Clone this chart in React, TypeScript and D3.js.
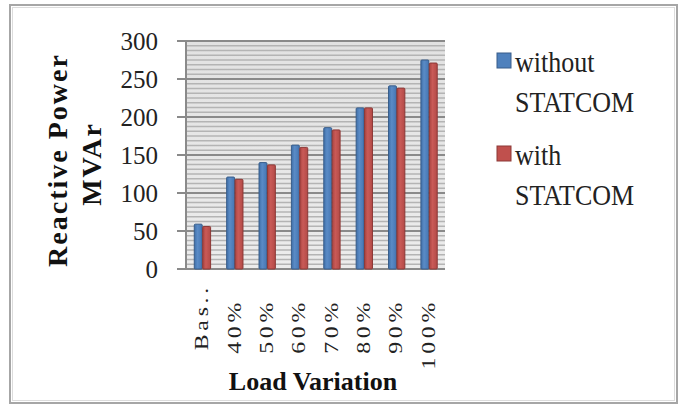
import React from "react";
import * as d3 from "d3";

const categories = ["Bas..", "40%", "50%", "60%", "70%", "80%", "90%", "100%"];
const withoutStatcom = [59, 121, 140, 163, 186, 212, 241, 275];
const withStatcom = [56, 118, 137, 160, 183, 212, 238, 271];
const seriesNames = ["without STATCOM", "with STATCOM"];
const yTicks = [0, 50, 100, 150, 200, 250, 300];

const W = 681;
const H = 405;
const plot = { left: 186, right: 445, top: 41, bottom: 269 };

const blue = "#4F81BD";
const blueDark = "#385D8A";
const red = "#C0504D";
const redDark = "#8C3836";
const serif = "Liberation Serif, DejaVu Serif, Times New Roman, serif";

export default function App() {
  const x = d3
    .scaleBand<string>()
    .domain(categories)
    .range([plot.left, plot.right])
    .paddingInner(0.48)
    .paddingOuter(0.24);
  const x1 = d3.scaleBand<string>().domain(seriesNames).range([0, x.bandwidth()]);
  const y = d3.scaleLinear().domain([0, 300]).range([plot.bottom, plot.top]);
  const minorTicks = d3.range(0, 300.001, 6.25).filter((v) => v % 50 !== 0);
  const series = [
    { name: seriesNames[0], values: withoutStatcom, fill: blue, stroke: blueDark },
    { name: seriesNames[1], values: withStatcom, fill: red, stroke: redDark },
  ];
  const ts = { fontFamily: serif };

  return (
    <svg
      width={W}
      height={H}
      style={{ position: "absolute", left: 0, top: 0, background: "#fff" }}
    >
      <defs>
        <linearGradient id="bg" x1="0" y1="0" x2="0" y2="1">
          <stop offset="0" stopColor="#e2e2e2" />
          <stop offset="1" stopColor="#ececec" />
        </linearGradient>
        <linearGradient id="gBlue" x1="0" y1="0" x2="1" y2="0">
          <stop offset="0" stopColor="#3f6fa8" />
          <stop offset="0.4" stopColor="#5a8bc6" />
          <stop offset="1" stopColor="#4576b3" />
        </linearGradient>
        <linearGradient id="gRed" x1="0" y1="0" x2="1" y2="0">
          <stop offset="0" stopColor="#a94441" />
          <stop offset="0.4" stopColor="#c95a57" />
          <stop offset="1" stopColor="#b34a47" />
        </linearGradient>
      </defs>
      <rect x={10} y={5} width={667} height={398} fill="none" stroke="#a6a6a6" strokeWidth={2} />
      <rect x={12.5} y={7.5} width={662} height={393} fill="none" stroke="#dcdcdc" strokeWidth={1} />

      <rect
        x={plot.left}
        y={plot.top}
        width={plot.right - plot.left}
        height={plot.bottom - plot.top}
        fill="url(#bg)"
      />
      {minorTicks.map((t) => (
        <line
          key={"m" + t}
          x1={plot.left}
          x2={plot.right}
          y1={y(t)}
          y2={y(t)}
          stroke="#b4b4b4"
          strokeWidth={1.3}
        />
      ))}
      {yTicks.map((t) => (
        <g key={"M" + t}>
          <line x1={177} x2={plot.right} y1={y(t)} y2={y(t)} stroke="#8a8a8a" strokeWidth={2} />
          <text
            x={158}
            y={y(t)}
            dy="0.35em"
            textAnchor="end"
            fontSize={25}
            fill="#222"
            style={ts}
          >
            {t}
          </text>
        </g>
      ))}
      <line x1={plot.left} x2={plot.left} y1={plot.top} y2={plot.bottom} stroke="#8a8a8a" strokeWidth={2} />

      {series.map((s, si) =>
        s.values.map((v, i) => {
          const bx = (x(categories[i]) as number) + (x1(s.name) as number);
          const bw = x1.bandwidth();
          const by = y(v);
          return (
            <rect
              key={s.name + i}
              x={bx + 0.5}
              y={by}
              width={bw - 0.5}
              height={plot.bottom - by}
              fill={si === 0 ? "url(#gBlue)" : "url(#gRed)"}
              stroke={s.stroke}
              strokeWidth={1}
              rx={1}
            />
          );
        })
      )}

      {categories.map((c, i) => {
        const cx = (x(c) as number) + x.bandwidth() / 2;
        const endY = i === 0 ? 284 : 299;
        return (
          <text
            key={c}
            transform={`translate(${cx + 6},${endY}) rotate(-90) scale(1.25,1)`}
            textAnchor="end"
            fontSize={19}
            letterSpacing={3}
            fill="#222"
            style={ts}
          >
            {c}
          </text>
        );
      })}

      <text
        transform={`translate(67,160) rotate(-90)`}
        textAnchor="middle"
        fontSize={28}
        fontWeight="bold"
        letterSpacing={2}
        fill="#111"
        style={ts}
      >
        Reactive Power
      </text>
      <text
        transform={`translate(101,164) rotate(-90)`}
        textAnchor="middle"
        fontSize={28}
        fontWeight="bold"
        letterSpacing={2}
        fill="#111"
        style={ts}
      >
        MVAr
      </text>
      <text x={313} y={390} textAnchor="middle" fontSize={26} fontWeight="bold" fill="#111" style={ts}>
        Load Variation
      </text>

      {series.map((s, i) => {
        const top = i === 0 ? 53 : 146;
        const words = s.name.split(" ");
        return (
          <g key={"lg" + s.name}>
            <rect x={497} y={top} width={14} height={15} fill={s.fill} stroke={s.stroke} strokeWidth={1} />
            <text transform={`translate(515,${top + 19}) scale(1,1.15)`} fontSize={26} fill="#222" style={ts}>
              {words[0]}
            </text>
            <text transform={`translate(515,${top + 59}) scale(1,1.15)`} fontSize={26} fill="#222" style={ts}>
              {words[1]}
            </text>
          </g>
        );
      })}
    </svg>
  );
}
